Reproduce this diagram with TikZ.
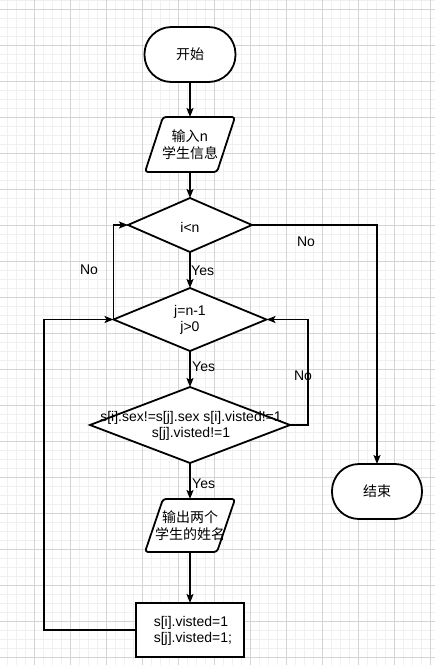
\documentclass[tikz,border=0pt]{standalone}
\usepackage{fontspec}
\setmainfont{Liberation Sans}
\newfontfamily\cjk{Noto Sans CJK SC}
\usetikzlibrary{shapes.geometric,arrows.meta}
\tikzset{
  minorgrid/.style={draw=black!6, line width=0.8pt},
  majorgrid/.style={draw=black!17, line width=0.8pt},
  box/.style={draw, line width=1.8pt, fill=white, inner sep=0pt, outer sep=0pt},
  term/.style={box, rectangle, rounded corners=27pt, minimum width=91pt, minimum height=55pt},
  ioframe/.style={rectangle, inner sep=0pt, outer sep=0pt, minimum width=90pt, minimum height=54pt},
  iopath/.style={draw, line width=1.8pt, fill=white, rounded corners=3pt, line join=round},
  dia/.style={box, diamond},
  proc/.style={box, rectangle, minimum width=108pt, minimum height=54pt},
  txt/.style={font=\fontsize{14}{16}\selectfont, align=center, inner sep=0pt},
  cjkt/.style={font=\cjk\fontsize{14}{16.5}\selectfont, align=center, inner sep=0pt},
  lbl/.style={font=\fontsize{14}{16}\selectfont, inner sep=0pt},
  conn/.style={line width=1.7pt, -{Stealth[length=9pt,width=7pt,inset=2pt]}},
}
\begin{document}
\begin{tikzpicture}[x=1pt,y=-1pt]
\useasboundingbox (0,0) rectangle (435,665);
\fill[white] (0,0) rectangle (435,665);
\begin{scope}
\clip (0,0) rectangle (435,665);
\foreach \x in {7,16,...,435} \draw[minorgrid] (\x,0) -- (\x,665);
\foreach \y in {0,9,...,665} \draw[minorgrid] (0,\y) -- (435,\y);
\foreach \x in {34,70,...,435} \draw[majorgrid] (\x,0) -- (\x,665);
\foreach \y in {9,45,...,665} \draw[majorgrid] (0,\y) -- (435,\y);
\end{scope}

% shapes
\node[term] (start) at (190,54.5) {};
\node[cjkt] at (start) {开始};

\node[ioframe, minimum height=55pt] (in1) at (190,144.5) {};
\draw[iopath] ([xshift=18pt]in1.north west) -- (in1.north east)
  -- ([xshift=-18pt]in1.south east) -- (in1.south west) -- cycle;
\node[cjkt] at (in1) {输入n\\学生信息};

\node[dia, minimum width=124pt, minimum height=54pt] (d1) at (190,225) {};
\node[txt] at (190,227) {i<n};
\node[dia, minimum width=153pt, minimum height=63pt] (d2) at (190,319.5) {};
\node[txt] at (190,320) {j=n-1\\j>0};
\node[dia, minimum width=200pt, minimum height=76pt] (d3) at (190,425) {};
\node[txt] at (191,426) {s[i].sex!=s[j].sex s[i].visted!=1\\s[j].visted!=1};

\node[ioframe, minimum height=53pt] (out) at (190,525.5) {};
\draw[iopath] ([xshift=18pt]out.north west) -- (out.north east)
  -- ([xshift=-18pt]out.south east) -- (out.south west) -- cycle;
\node[cjkt] at (out) {输出两个\\学生的姓名};

\node[proc] (upd) at (190,630) {};
\node[txt] at (191,631) {s[i].visted=1\\~s[j].visted=1;};
\node[term, minimum width=90pt] (end) at (377,491.5) {};
\node[cjkt] at (end) {结束};

\coordinate (lp) at (44,630);
\coordinate (rp) at (308,425);

% connectors
\draw[conn] (start.south) -- (in1.north);
\draw[conn] (in1.south) -- (d1.north);
\draw[conn] (d1.south) -- (d2.north);
\node[lbl, anchor=west] at (191,271) {Yes};
\draw[conn] (d2.south) -- (d3.north);
\node[lbl, anchor=west] at (192,367) {Yes};
\draw[conn] (d3.south) -- (out.north);
\node[lbl, anchor=west] at (192,484) {Yes};
\draw[conn] (out.south) -- (upd.north);
\draw[conn] (upd.west) -- (lp) |- (d2.west);
\draw[conn] (d2.west) |- (d1.west);
\node[lbl] at (89,270) {No};
\draw[conn] (d3.east) -- (rp) |- (d2.east);
\node[lbl] at (303,376) {No};
\draw[conn] (d1.east) -| (end.north);
\node[lbl] at (306,242) {No};
\end{tikzpicture}
\end{document}
